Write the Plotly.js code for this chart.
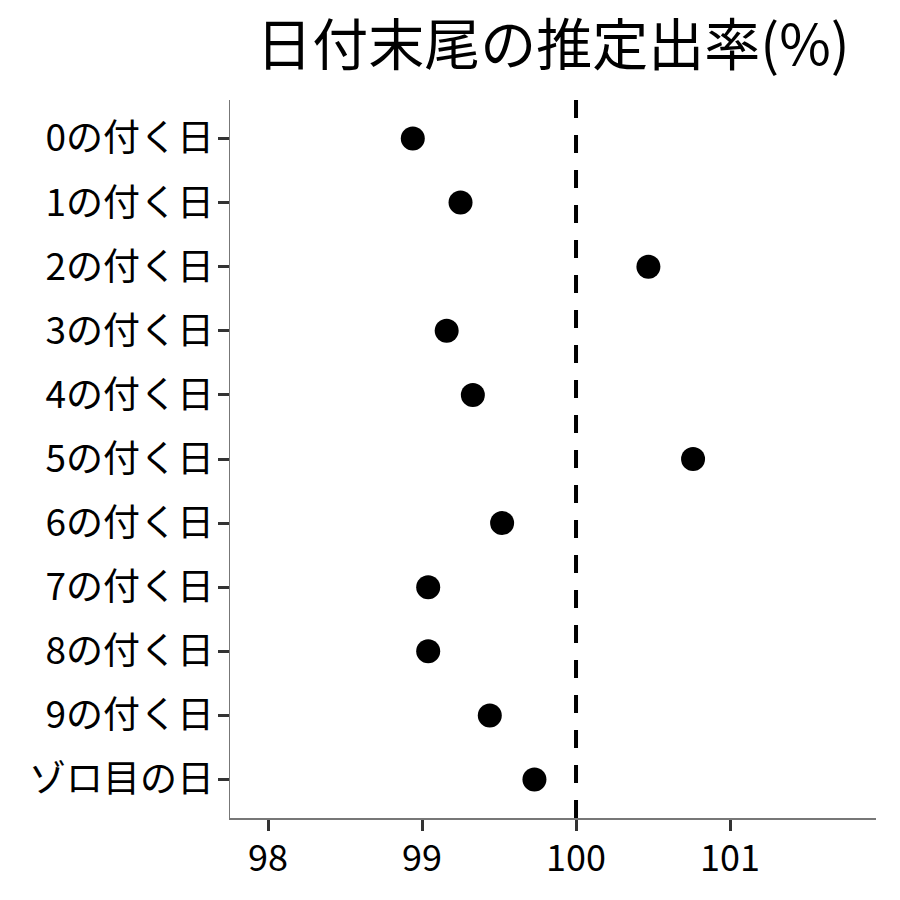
<!DOCTYPE html>
<html>
<head>
<meta charset="utf-8">
<script src="https://cdn.plot.ly/plotly-3.0.1.min.js"></script>
<style>body{margin:0;padding:0;background:#fff}#chart{width:900px;height:900px}</style>
</head>
<body>
<div id="chart"></div>
<script>
const categories = ["0の付く日","1の付く日","2の付く日","3の付く日","4の付く日","5の付く日","6の付く日","7の付く日","8の付く日","9の付く日","ゾロ目の日"];
const rates = [98.94, 99.25, 100.47, 99.16, 99.33, 100.76, 99.52, 99.04, 99.04, 99.44, 99.73];
const xTicks = [98, 99, 100, 101];
const refLine = 100;
const titleText = "日付末尾の推定出率(%)";

const font = "Noto Sans CJK JP, Noto Sans, sans-serif";

const trace = {
  type: "scatter",
  mode: "markers",
  x: rates,
  y: categories,
  marker: {color: "#000000", size: 24},
  hoverinfo: "x+y"
};

const layout = {
  width: 900, height: 900,
  paper_bgcolor: "#ffffff", plot_bgcolor: "#ffffff",
  margin: {l: 230, r: 24, t: 100, b: 82},
  showlegend: false,
  font: {family: font, color: "#000000"},
  title: {text: titleText, font: {family: font, size: 56, color: "#000000"},
          x: 0.5, xref: "paper", xanchor: "center", y: 0.95, yref: "container", yanchor: "middle"},
  xaxis: {
    range: [97.753, 101.948],
    tickvals: xTicks, ticktext: xTicks.map(String),
    showgrid: false, zeroline: false,
    showline: true, linecolor: "#777777", linewidth: 1.5,
    ticks: "outside", ticklen: 11, tickwidth: 3, tickcolor: "#333333",
    tickfont: {family: font, size: 36, color: "#000000"},
    ticklabelstandoff: -3,
    fixedrange: true
  },
  yaxis: {
    type: "category",
    categoryorder: "array", categoryarray: categories,
    range: [categories.length - 0.4, -0.6],
    showgrid: false, zeroline: false,
    showline: true, linecolor: "#777777", linewidth: 1.5,
    ticks: "outside", ticklen: 11, tickwidth: 3, tickcolor: "#333333",
    tickfont: {family: font, size: 37, color: "#000000"},
    ticklabelstandoff: -4,
    fixedrange: true
  },
  shapes: [{
    type: "line", xref: "x", yref: "paper",
    x0: refLine, x1: refLine, y0: 0, y1: 1,
    line: {color: "#000000", width: 4, dash: "18px,17px"},
    layer: "below"
  }]
};

Plotly.newPlot("chart", [trace], layout, {displayModeBar: false, staticPlot: true});
</script>
</body>
</html>
